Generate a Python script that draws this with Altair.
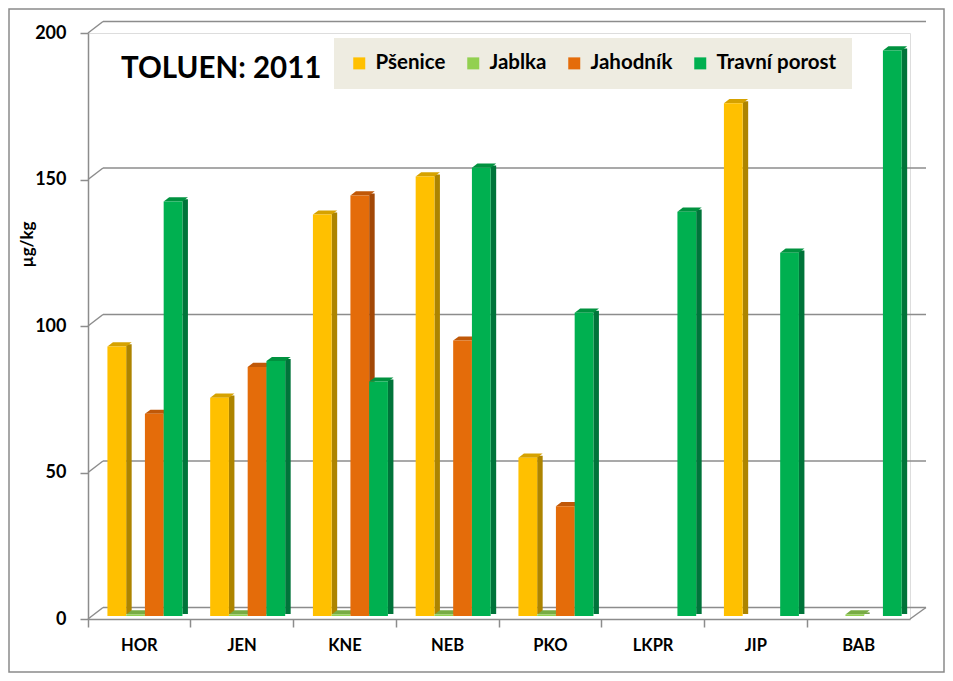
import altair as alt
import pandas as pd

# ---- data ----
chart_title = ["TOLUEN: 2011"]
categories = ["HOR", "JEN", "KNE", "NEB", "PKO", "LKPR", "JIP", "BAB"]
series_names = ["Pšenice", "Jablka", "Jahodník", "Travní porost"]
psenice = [92, 74.5, 137, 150, 54, None, 175, None]
jablka = [0.5, 0.5, 0.5, 0.5, 0.5, None, None, 0.5]
jahodnik = [69, 85, 143.5, 94, 37.5, None, None, None]
travni = [141.5, 87, 80, 153, 103.5, 138, 124, 193]
y_ticks = [0, 50, 100, 150, 200]

front_colors = ["#FFC000", "#92D050", "#E46C0A", "#00B050"]
side_colors = ["#AD8400", "#66963A", "#A34806", "#00743A"]
top_colors = ["#D6A200", "#78AC44", "#C05808", "#00923F"]

rows = []
for name, vals in zip(series_names, [psenice, jablka, jahodnik, travni]):
    for c, v in zip(categories, vals):
        if v is not None:
            rows.append({"site": c, "series": name, "value": v})
df = pd.DataFrame(rows)
ticks_df = pd.DataFrame({"tick": y_ticks})

# ---- geometry / style ----
W, H = 822, 586
GRID = "#8C8C8C"
FONT = "Lato"
N_SITES = len(categories)
BAND = W / N_SITES                 # width of one category band
SLOT = 18.75                       # width of one bar's front face
PAD_OUT = (BAND / SLOT - 4) / 2    # outer padding of the sub-band scale
ALIGN = 0.7                        # bars sit right of centre (3-D depth shift)
GROUP_LEFT = (BAND - 4 * SLOT) * ALIGN
DEPTH_X, DEPTH_Y = 5.5, 4.2        # depth of each 3-D column
BASE_Y = -3                        # columns stand slightly behind the front edge

x_scale = alt.Scale(domain=categories, paddingInner=0, paddingOuter=0)
xo_scale = alt.Scale(domain=series_names, paddingInner=0, paddingOuter=PAD_OUT, align=ALIGN)
y_scale = alt.Scale(domain=[0, 200], nice=False, zero=True)
color_scale = alt.Scale(domain=series_names, range=front_colors)

legend = alt.Legend(
    orient="none", legendX=246, legendY=5, direction="horizontal",
    title=None, fillColor="#EEECE1", padding=15,
    symbolType="square", symbolSize=144, symbolStrokeWidth=0,
    labelFont=FONT, labelFontSize=20.5, labelFontWeight="bold", labelColor="#000000",
    labelOffset=6, columnPadding=17,
)

x_axis = alt.Axis(
    bandPosition=0, tickSize=8, tickColor=GRID, domainColor=GRID, domainWidth=1.5,
    tickWidth=1.5, labelFont=FONT, labelFontSize=16.5, labelFontWeight="bold",
    labelColor="#000000", labelPadding=10, labelAngle=0, title=None, grid=False,
)
y_axis = alt.Axis(
    values=y_ticks, tickSize=8, tickColor=GRID, domainColor=GRID, domainWidth=1.5,
    tickWidth=1.5, labelFont=FONT, labelFontSize=18, labelFontWeight="bold",
    labelColor="#000000", labelPadding=14, grid=False,
    title="µg/kg", titleFont=FONT, titleFontSize=17, titleFontWeight="bold",
    titleColor="#000000", titleX=-61, titleY=211, titleAngle=270,
    titleAlign="center", titleBaseline="middle",
)

# ---- walls / floor ----
ticks_base = alt.Chart(ticks_df)
back_grid = ticks_base.mark_rule(color=GRID, strokeWidth=1.5, yOffset=-11.5).encode(
    y=alt.Y("tick:Q", scale=y_scale, axis=y_axis),
    x=alt.value(15), x2=alt.value(W + 16),
)
connectors = ticks_base.mark_rule(color=GRID, strokeWidth=1.5, y2Offset=-11.5).encode(
    y=alt.Y("tick:Q", scale=y_scale, axis=y_axis), y2="tick:Q",
    x=alt.value(0), x2=alt.value(15),
)
floor_edge = ticks_base.transform_filter("datum.tick == 0").mark_rule(
    color=GRID, strokeWidth=1.5, y2Offset=-11.5
).encode(
    y=alt.Y("tick:Q", scale=y_scale, axis=y_axis), y2="tick:Q",
    x=alt.value(W), x2=alt.value(W + 16),
)
frame = ticks_base.transform_filter("datum.tick == 0").mark_rect(
    fill=None, stroke="#8A8A8A", strokeWidth=1.5
).encode(
    x=alt.value(-79), x2=alt.value(W + 34), y=alt.value(-24), y2=alt.value(H + 53)
)
title_layer = alt.Chart(pd.DataFrame({"t": chart_title})).mark_text(
    align="left", baseline="alphabetic", font=FONT, fontSize=29.5,
    fontWeight="bold", color="#000000",
).encode(text="t:N", x=alt.value(33), y=alt.value(45))

# cap (top face) shape, in units of 15 px around the front-top centre
S = 15.0
hw = SLOT / 2
cap_path = "M {a} 0 L {b} 0 L {c} {d} L {e} {d} Z".format(
    a=-hw / S, b=hw / S, c=(hw + DEPTH_X) / S, d=-DEPTH_Y / S, e=(-hw + DEPTH_X) / S
)

# ---- 3-D looking columns ----
layers = [frame, back_grid, connectors, floor_edge]
bars = alt.Chart(df)
enc_x = alt.X("site:N", scale=x_scale, axis=x_axis)
enc_xo = alt.XOffset("series:N", scale=xo_scale)
for i, name in enumerate(series_names):
    sub = bars.transform_filter(alt.datum.series == name)
    left = GROUP_LEFT + SLOT * i - BAND / 2      # bar's front-left, from band centre
    side = sub.mark_rule(
        strokeWidth=DEPTH_X, strokeCap="butt", color=side_colors[i],
        xOffset=left + SLOT + DEPTH_X / 2,
        yOffset=BASE_Y - DEPTH_Y / 2, y2Offset=BASE_Y - DEPTH_Y / 2,
    ).encode(
        x=enc_x,
        y=alt.Y("value:Q", scale=y_scale, axis=y_axis),
        y2=alt.datum(0),
    )
    cap = sub.mark_point(
        shape=cap_path, size=(2 * S) ** 2, filled=True, opacity=1, strokeWidth=0,
        xOffset=left + hw, yOffset=BASE_Y, color=top_colors[i],
    ).encode(
        x=enc_x,
        y=alt.Y("value:Q", scale=y_scale, axis=y_axis),
    )
    front = sub.mark_bar(yOffset=BASE_Y, y2Offset=BASE_Y).encode(
        x=enc_x, xOffset=enc_xo,
        y=alt.Y("value:Q", scale=y_scale, axis=y_axis),
        color=alt.Color("series:N", scale=color_scale, legend=legend),
    )
    layers += [side, cap, front]
layers.append(title_layer)

chart = alt.layer(*layers).properties(
    width=W, height=H,
    padding={"left": 80, "top": 25, "right": 35, "bottom": 54},
    autosize=alt.AutoSizeParams(type="none"),
).configure_view(stroke=None).configure(background="#FFFFFF", font=FONT)

chart.save("out.html", embed_options={"renderer": "svg", "actions": False})
